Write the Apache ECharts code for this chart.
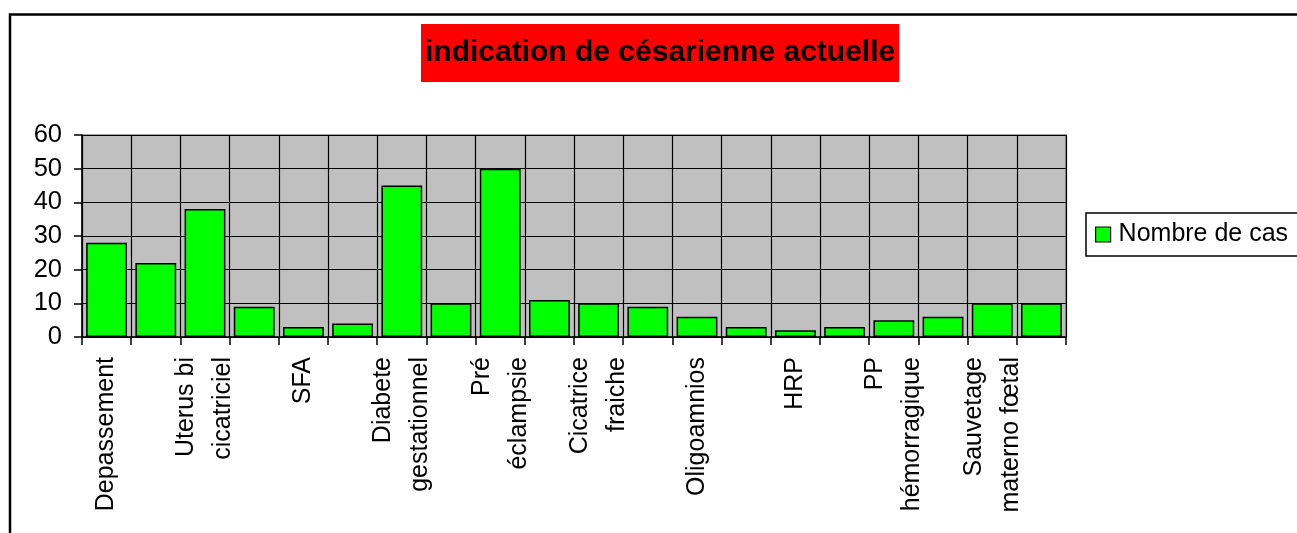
<!DOCTYPE html>
<html>
<head>
<meta charset="utf-8">
<title>indication de césarienne actuelle</title>
<script src="https://cdn.jsdelivr.net/npm/echarts@6/dist/echarts.min.js"></script>
<style>
  html, body { margin: 0; padding: 0; background: #fff; }
  #myChart { width: 1297px; height: 533px; }
</style>
</head>
<body>
<div id="myChart"></div>
<script>
  // catégories (une sur deux seulement est affichée sur l'axe)
  var categories = [
    'Depassement', '', 'Uterus bi\ncicatriciel', '', 'SFA', '',
    'Diabete\ngestationnel', '', 'Pré\néclampsie', '', 'Cicatrice\nfraiche', '',
    'Oligoamnios', '', 'HRP', '', 'PP\nhémorragique', '', 'Sauvetage\nmaterno fœtal', ''
  ]
  // nombre de cas
  var nombreDeCas = [28, 22, 38, 9, 3, 4, 45, 10, 50, 11, 10, 9, 6, 3, 2, 3, 5, 6, 10, 10]
  var seriesName = 'Nombre de cas'
  var titleText = 'indication de césarienne actuelle'
  var yMin = 0
  var yMax = 60
  var yStep = 10

  var myChart = echarts.init(document.getElementById('myChart'))
  var font = 'Liberation Sans, Arial, sans-serif'

  var option = {
    backgroundColor: '#fff',
    animation: false,
    // cadre noir autour du graphique
    graphic: [{
      type: 'rect',
      z: 100,
      shape: { x: 10, y: 14.5, width: 1400, height: 700 },
      style: { fill: 'none', stroke: '#000', lineWidth: 2.5 }
    }],
    title: {
      text: titleText,
      left: 421,
      top: 24,
      backgroundColor: '#ff0000',
      padding: [14, 4, 14, 4],
      textStyle: {
        fontFamily: font,
        fontWeight: 'bold',
        fontSize: 30,
        lineHeight: 30,
        color: '#000'
      }
    },
    legend: {
      left: 1086,
      top: 213,
      orient: 'vertical',
      padding: [9, 10, 9, 9],
      borderColor: '#000',
      borderWidth: 1.5,
      backgroundColor: '#fff',
      icon: 'rect',
      itemWidth: 15,
      itemHeight: 15,
      itemStyle: { borderColor: '#000', borderWidth: 1.2 },
      textStyle: {
        fontFamily: font,
        fontSize: 25,
        lineHeight: 25,
        color: '#000',
        padding: [0, 0, 0, 3]
      },
      data: [seriesName]
    },
    grid: {
      left: 82,
      right: 231,
      top: 135,
      bottom: 196,
      outerBoundsMode: 'none',
      containLabel: false,
      show: true,
      backgroundColor: '#c0c0c0',
      borderColor: '#808080',
      borderWidth: 1.5
    },
    xAxis: {
      type: 'category',
      data: categories,
      axisLine: { show: true, lineStyle: { color: '#000', width: 1.5 } },
      axisTick: { show: true, interval: 0, length: 8, lineStyle: { color: '#000', width: 1.5 } },
      splitLine: { show: true, interval: 0, lineStyle: { color: '#000', width: 1.2 } },
      axisLabel: {
        interval: 1,
        rotate: 90,
        margin: 20,
        fontFamily: font,
        fontSize: 25,
        lineHeight: 37,
        color: '#000'
      }
    },
    yAxis: {
      type: 'value',
      min: yMin,
      max: yMax,
      interval: yStep,
      axisLine: { show: true, lineStyle: { color: '#000', width: 1.5 } },
      axisTick: { show: true, length: 8, lineStyle: { color: '#000', width: 1.5 } },
      splitLine: { show: true, lineStyle: { color: '#000', width: 1.2 } },
      axisLabel: {
        margin: 20,
        fontFamily: font,
        fontSize: 25.5,
        color: '#000'
      }
    },
    series: [{
      name: seriesName,
      type: 'bar',
      data: nombreDeCas,
      barCategoryGap: '17%',
      itemStyle: {
        color: '#00ff00',
        borderColor: '#000',
        borderWidth: 1.5
      }
    }]
  }

  myChart.setOption(option)
</script>
</body>
</html>
